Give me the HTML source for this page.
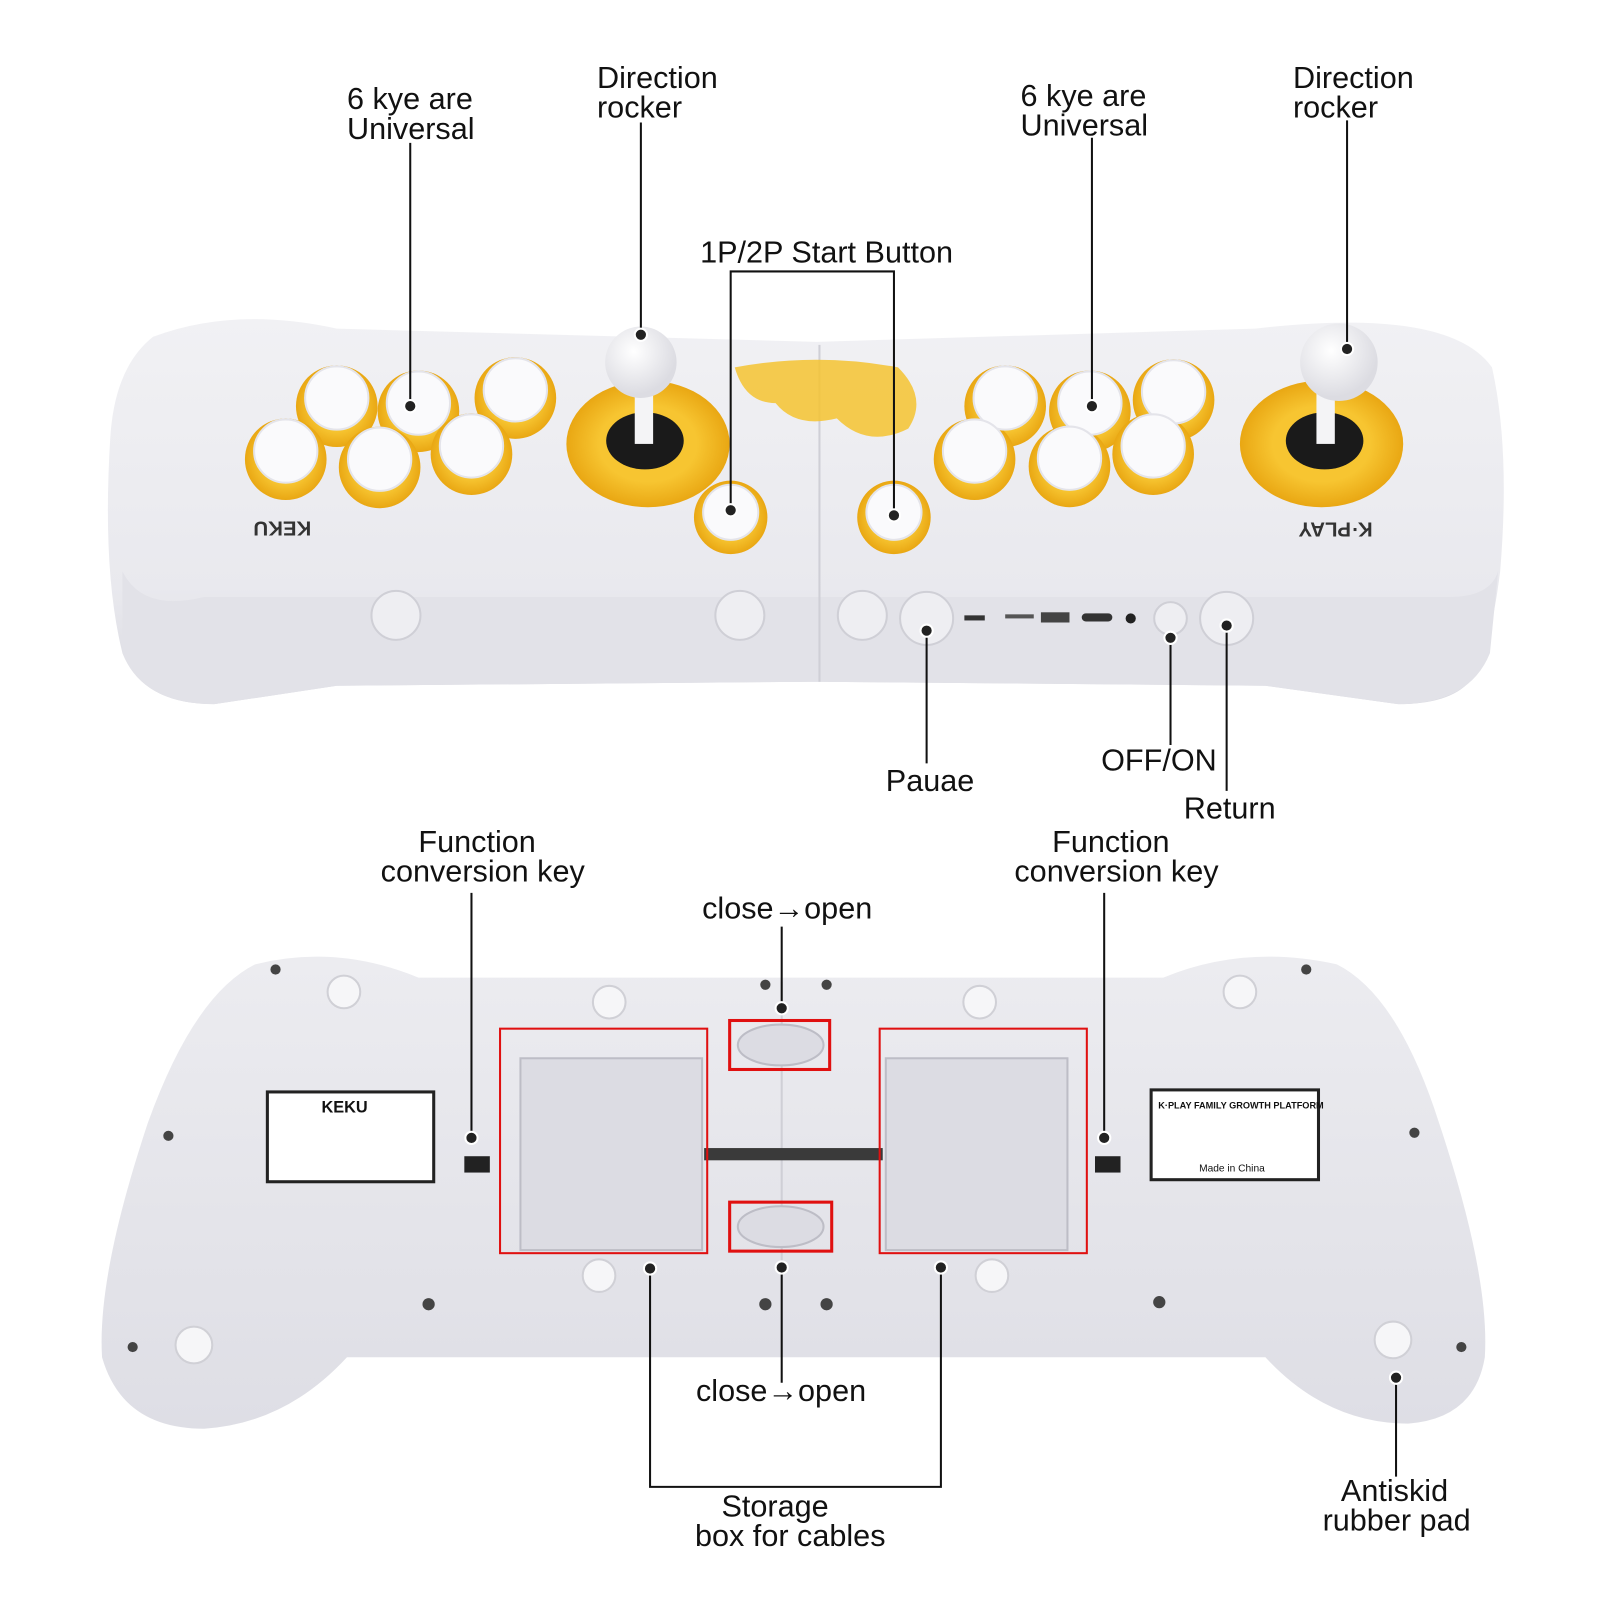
<!DOCTYPE html>
<html><head><meta charset="utf-8"><style>
html,body{margin:0;padding:0;background:#fff;width:1600px;height:1600px;overflow:hidden}
text{font-family:"Liberation Sans",Arial,sans-serif;font-size:30px;fill:#111}
</style></head><body>
<svg width="1600" height="1600" viewBox="0 0 1600 1600" xmlns="http://www.w3.org/2000/svg">
<defs>
<linearGradient id="tg" x1="0" y1="0" x2="0" y2="1"><stop offset="0" stop-color="#f1f1f4"/><stop offset="0.7" stop-color="#e9e9ee"/><stop offset="1" stop-color="#d9d9e0"/></linearGradient>
<linearGradient id="bg" x1="0" y1="0" x2="0" y2="1"><stop offset="0" stop-color="#ececf0"/><stop offset="1" stop-color="#dedee5"/></linearGradient>
<radialGradient id="yb" cx="0.5" cy="0.5" r="0.5"><stop offset="0.6" stop-color="#f7c531"/><stop offset="1" stop-color="#e9a713"/></radialGradient>
<radialGradient id="ball" cx="0.4" cy="0.35" r="0.6"><stop offset="0" stop-color="#fff"/><stop offset="1" stop-color="#dcdce2"/></radialGradient>
</defs>
<g transform="scale(1.0205)">
<path d="M150,330 Q230,300 330,322 L800,335 L1230,322 Q1420,300 1462,360 Q1480,440 1470,560 Q1460,640 1440,668 Q1420,690 1370,690 L1240,672 L800,668 L330,672 L210,690 Q140,690 120,640 Q100,560 108,430 Q112,360 150,330 Z" fill="url(#tg)"/>
<path d="M120,560 Q140,600 200,585 L1420,585 Q1460,585 1468,560 L1460,640 Q1440,690 1370,690 L1240,672 L800,668 L330,672 L210,690 Q140,690 120,640 Z" fill="#e2e2e8"/>
<line x1="803" y1="338" x2="803" y2="668" stroke="#cfcfd6" stroke-width="2"/>
<path d="M720,360 Q800,345 880,360 Q910,390 890,420 Q850,440 820,410 Q780,420 760,395 Q730,395 720,360Z" fill="#f5c330" opacity="0.85"/>
<g fill="url(#yb)">
<circle cx="330" cy="398" r="40"/><circle cx="410" cy="403" r="40"/><circle cx="505" cy="390" r="40"/>
<circle cx="280" cy="450" r="40"/><circle cx="372" cy="458" r="40"/><circle cx="462" cy="445" r="40"/>
<circle cx="985" cy="398" r="40"/><circle cx="1068" cy="403" r="40"/><circle cx="1150" cy="392" r="40"/>
<circle cx="955" cy="450" r="40"/><circle cx="1048" cy="457" r="40"/><circle cx="1130" cy="445" r="40"/>
<circle cx="716" cy="507" r="36"/><circle cx="876" cy="507" r="36"/>
<ellipse cx="635" cy="435" rx="80" ry="62"/><ellipse cx="1295" cy="435" rx="80" ry="62"/>
</g>
<g fill="#fafafc" stroke="#e4e4ea" stroke-width="2">
<circle cx="330" cy="390" r="31"/><circle cx="410" cy="395" r="31"/><circle cx="505" cy="382" r="31"/>
<circle cx="280" cy="442" r="31"/><circle cx="372" cy="450" r="31"/><circle cx="462" cy="437" r="31"/>
<circle cx="985" cy="390" r="31"/><circle cx="1068" cy="395" r="31"/><circle cx="1150" cy="384" r="31"/>
<circle cx="955" cy="442" r="31"/><circle cx="1048" cy="449" r="31"/><circle cx="1130" cy="437" r="31"/>
<circle cx="716" cy="502" r="27"/><circle cx="876" cy="502" r="27"/>
</g>
<ellipse cx="632" cy="432" rx="38" ry="28" fill="#1a1a1a"/><ellipse cx="1298" cy="432" rx="38" ry="28" fill="#1a1a1a"/>
<rect x="622" y="380" width="18" height="55" fill="#f4f4f6"/><rect x="1290" y="380" width="18" height="55" fill="#f4f4f6"/>
<circle cx="628" cy="355" r="35" fill="url(#ball)"/><circle cx="1312" cy="355" r="38" fill="url(#ball)"/>
<text x="215" y="525" style="font-size:20px;font-weight:bold;fill:#333" transform="rotate(180 260 518)">KEKU</text>
<text x="1255" y="528" style="font-size:20px;font-weight:bold;fill:#333" transform="rotate(180 1300 520)">K·PLAY</text>
<g fill="#eeeef2" stroke="#cfcfd6" stroke-width="2">
<circle cx="388" cy="603" r="24"/><circle cx="725" cy="603" r="24"/><circle cx="845" cy="603" r="24"/>
<circle cx="908" cy="606" r="26"/><circle cx="1202" cy="606" r="26"/><circle cx="1147" cy="606" r="16"/>
</g>
<rect x="945" y="603" width="20" height="5" fill="#333"/><rect x="985" y="602" width="28" height="4" fill="#555"/>
<rect x="1020" y="600" width="28" height="10" fill="#444"/><rect x="1060" y="601" width="30" height="8" rx="4" fill="#333"/><circle cx="1108" cy="606" r="5" fill="#222"/>
<path d="M250,945 Q330,925 410,958 L1140,958 Q1220,925 1310,945 Q1370,975 1410,1100 Q1460,1250 1455,1330 Q1445,1390 1380,1395 Q1300,1395 1240,1330 L340,1330 Q280,1395 200,1400 Q120,1400 100,1330 Q95,1250 145,1100 Q190,975 250,945 Z" fill="url(#bg)"/>
<line x1="766" y1="962" x2="766" y2="1330" stroke="#cfcfd6" stroke-width="2"/>
<rect x="690" y="1125" width="175" height="12" fill="#3a3a3a"/>
<g fill="#dcdce3" stroke="#bdbdc6" stroke-width="2">
<rect x="510" y="1037" width="178" height="188"/><rect x="868" y="1037" width="178" height="188"/>
<ellipse cx="765" cy="1024" rx="42" ry="20"/><ellipse cx="765" cy="1202" rx="42" ry="20"/>
</g>
<g fill="none" stroke="#e01010" stroke-width="2">
<rect x="490" y="1008" width="203" height="220"/><rect x="862" y="1008" width="203" height="220"/>
<rect x="715" y="1000" width="98" height="48" stroke-width="3"/><rect x="715" y="1178" width="100" height="48" stroke-width="3"/>
</g>
<rect x="262" y="1070" width="163" height="88" fill="#fff" stroke="#222" stroke-width="3"/>
<rect x="1128" y="1068" width="164" height="88" fill="#fff" stroke="#222" stroke-width="3"/>
<text x="315" y="1090" style="font-size:16px;font-weight:bold">KEKU</text>
<text x="1135" y="1086" style="font-size:9px;font-weight:bold">K·PLAY FAMILY GROWTH PLATFORM</text>
<text x="1175" y="1148" style="font-size:10px">Made in China</text>
<g fill="#f6f6f8" stroke="#d0d0d6" stroke-width="2">
<circle cx="337" cy="972" r="16"/><circle cx="597" cy="982" r="16"/><circle cx="960" cy="982" r="16"/><circle cx="1215" cy="972" r="16"/>
<circle cx="587" cy="1250" r="16"/><circle cx="972" cy="1250" r="16"/><circle cx="190" cy="1318" r="18"/><circle cx="1365" cy="1313" r="18"/>
</g>
<g fill="#444"><circle cx="270" cy="950" r="5"/><circle cx="1280" cy="950" r="5"/><circle cx="165" cy="1113" r="5"/><circle cx="1386" cy="1110" r="5"/><circle cx="130" cy="1320" r="5"/><circle cx="1432" cy="1320" r="5"/><circle cx="420" cy="1278" r="6"/><circle cx="1136" cy="1276" r="6"/><circle cx="750" cy="1278" r="6"/><circle cx="810" cy="1278" r="6"/><circle cx="750" cy="965" r="5"/><circle cx="810" cy="965" r="5"/></g>
<rect x="455" y="1133" width="25" height="16" fill="#222"/><rect x="1073" y="1133" width="25" height="16" fill="#222"/>
<g stroke="#111" stroke-width="2" fill="none">
<line x1="402" y1="140" x2="402" y2="398"/><line x1="628" y1="120" x2="628" y2="328"/>
<polyline points="716,500 716,266 876,266 876,505"/>
<line x1="1070" y1="135" x2="1070" y2="398"/><line x1="1320" y1="118" x2="1320" y2="342"/>
<line x1="908" y1="618" x2="908" y2="748"/><line x1="1147" y1="625" x2="1147" y2="730"/><line x1="1202" y1="613" x2="1202" y2="775"/>
<line x1="462" y1="875" x2="462" y2="1115"/><line x1="766" y1="908" x2="766" y2="988"/><line x1="1082" y1="875" x2="1082" y2="1115"/>
<line x1="766" y1="1242" x2="766" y2="1355"/><polyline points="637,1243 637,1457 922,1457 922,1242"/>
<line x1="1368" y1="1350" x2="1368" y2="1447"/>
</g>
<g fill="#222" stroke="#fff" stroke-width="2">
<circle cx="402" cy="398" r="6"/><circle cx="628" cy="328" r="6"/><circle cx="716" cy="500" r="6"/><circle cx="876" cy="505" r="6"/>
<circle cx="1070" cy="398" r="6"/><circle cx="1320" cy="342" r="6"/><circle cx="908" cy="618" r="6"/><circle cx="1147" cy="625" r="6"/><circle cx="1202" cy="613" r="6"/>
<circle cx="462" cy="1115" r="6"/><circle cx="766" cy="988" r="6"/><circle cx="1082" cy="1115" r="6"/><circle cx="766" cy="1242" r="6"/>
<circle cx="637" cy="1243" r="6"/><circle cx="922" cy="1242" r="6"/><circle cx="1368" cy="1350" r="6"/>
</g>
<text x="340" y="107">6 kye are</text><text x="340" y="136">Universal</text>
<text x="585" y="86">Direction</text><text x="585" y="115">rocker</text>
<text x="686" y="257">1P/2P Start Button</text>
<text x="1000" y="104">6 kye are</text><text x="1000" y="133">Universal</text>
<text x="1267" y="86">Direction</text><text x="1267" y="115">rocker</text>
<text x="868" y="775">Pauae</text><text x="1079" y="755">OFF/ON</text><text x="1160" y="802">Return</text>
<text x="410" y="835">Function</text><text x="373" y="864">conversion key</text>
<text x="1031" y="835">Function</text><text x="994" y="864">conversion key</text>
<text x="688" y="900">close→open</text><text x="682" y="1373">close→open</text>
<text x="707" y="1486">Storage</text><text x="681" y="1515">box for cables</text>
<text x="1314" y="1471">Antiskid</text><text x="1296" y="1500">rubber pad</text>
</g>
</svg>
</body></html>
